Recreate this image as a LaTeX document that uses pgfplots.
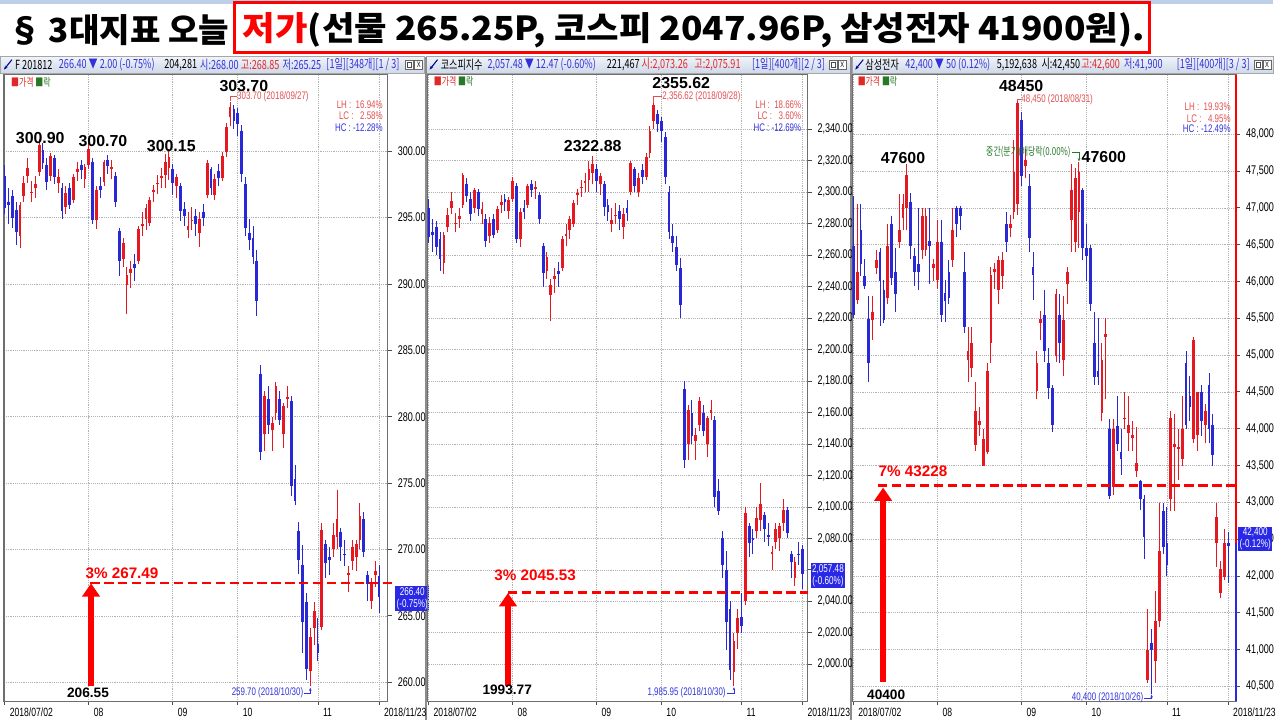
\documentclass[border=0pt]{standalone}
\usepackage{pgfplots}
\pgfplotsset{compat=1.18}
\usepackage{pgfplotstable}
\usepackage{graphicx}
\usepackage{fontspec}
\usetikzlibrary{arrows.meta}
\setmainfont{Liberation Sans}
\newfontfamily\kr{Noto Sans CJK KR}
\newfontfamily\krn[FakeStretch=0.72]{Noto Sans CJK KR}
\newfontfamily\nar[FakeStretch=0.72]{Liberation Sans}

\definecolor{cup}{RGB}{230,25,35}
\definecolor{cdn}{RGB}{40,40,215}
\definecolor{hdrtop}{RGB}{240,243,249}
\definecolor{hdrbot}{RGB}{206,216,233}
\definecolor{txtblue}{RGB}{50,50,220}
\definecolor{txtred}{RGB}{225,40,40}
\definecolor{lred}{RGB}{225,80,80}
\definecolor{dgreen}{RGB}{40,120,40}
\definecolor{boxblue}{RGB}{40,40,230}
\definecolor{framec}{RGB}{110,110,110}
\definecolor{topstrip}{RGB}{190,208,232}

\pgfplotstableread{
d o h l c
0 298.15 298.93 295.29 295.75
1 296.20 297.24 294.51 295.93
2 296.59 297.11 294.25 294.97
3 295.55 296.20 292.95 293.94
4 293.60 296.20 292.69 295.91
5 296.59 298.15 296.20 297.60
6 298.15 299.45 297.63 298.71
7 296.85 297.76 296.20 296.93
8 297.24 298.15 296.46 297.51
9 298.41 300.90 298.15 300.50
10 300.10 300.62 298.67 299.13
11 298.93 299.45 297.11 297.68
12 298.15 299.84 297.76 299.62
13 299.45 299.71 297.50 298.03
14 297.63 298.67 296.85 298.04
15 297.24 297.63 294.90 295.46
16 295.81 297.37 295.29 296.88
17 297.24 297.63 295.68 295.94
18 296.33 298.28 296.07 298.03
19 298.41 299.19 297.76 298.68
20 298.93 299.32 297.89 298.61
21 297.89 299.06 297.24 298.84
22 298.93 300.70 298.67 300.20
23 299.22 299.48 294.54 294.83
24 294.80 297.40 294.15 297.10
25 297.40 298.05 296.49 297.09
26 297.66 299.35 297.40 299.18
27 299.35 299.74 298.31 298.90
28 298.66 299.31 297.88 298.80
29 298.14 298.40 295.80 296.16
30 293.98 294.24 290.60 291.71
31 291.90 293.46 291.25 293.06
32 289.95 291.25 287.74 290.70
33 290.85 291.76 289.68 291.12
34 291.50 292.28 290.20 291.23
35 291.76 294.36 291.50 294.11
36 294.36 295.40 293.58 294.53
37 294.88 296.05 294.10 295.75
38 294.60 296.55 294.34 296.30
39 296.94 297.46 296.16 297.11
40 297.59 298.24 296.81 297.63
41 297.98 298.76 297.20 298.16
42 298.24 299.80 297.20 299.15
43 298.76 300.15 297.85 299.54
44 298.65 299.04 296.70 297.61
45 297.35 298.26 296.44 298.04
46 297.35 297.61 294.75 295.50
47 295.66 296.18 294.36 295.09
48 294.10 295.40 293.45 294.37
49 294.75 295.79 294.10 294.82
50 295.14 295.66 293.58 294.48
51 293.84 295.40 292.80 294.91
52 295.40 296.05 294.36 294.96
53 296.70 299.30 296.44 299.08
54 298.65 298.78 296.70 297.21
55 296.70 298.26 296.31 297.87
56 298.52 299.04 297.35 297.95
57 298.00 299.95 297.74 299.63
58 299.95 302.16 299.56 301.80
59 302.55 303.70 301.90 303.30
60 303.20 303.46 301.64 302.30
61 302.85 303.24 301.16 302.06
62 301.55 301.94 297.65 298.25
63 297.50 298.02 293.60 294.19
64 293.86 294.90 292.56 293.28
65 293.45 294.36 291.50 292.00
66 291.76 292.54 287.60 288.72
67 283.25 283.90 276.75 277.36
68 278.70 281.95 277.40 281.55
69 281.30 282.34 278.70 279.36
70 279.00 280.00 277.40 279.50
71 280.26 282.60 279.74 282.28
72 281.30 281.95 279.35 279.78
73 278.70 281.04 277.66 280.82
74 281.30 282.34 280.65 281.52
75 281.15 281.54 274.00 274.79
76 275.30 276.34 273.35 273.69
77 271.40 272.05 268.15 269.23
78 268.80 270.36 262.17 264.54
79 266.05 266.70 260.20 260.99
80 260.85 264.10 259.70 263.41
81 264.10 266.05 262.80 265.36
82 262.90 264.85 261.60 262.19
83 264.20 272.00 263.94 271.48
84 270.44 270.70 267.84 269.00
85 269.40 270.18 268.10 269.23
86 270.05 272.00 269.40 271.10
87 270.96 274.50 270.05 272.26
88 271.35 271.61 269.14 270.19
89 269.66 270.70 268.75 269.56
90 268.10 268.75 266.80 268.26
91 269.14 270.70 268.49 270.19
92 269.40 270.70 268.36 270.45
93 270.70 273.50 270.05 272.50
94 272.30 272.80 269.40 269.84
95 268.10 268.36 266.15 267.42
96 266.15 267.84 265.50 267.46
97 268.10 269.14 267.19 268.40
98 268.00 268.85 265.25 266.40
}\pA

\pgfplotstableread{
d o h l c
0 2290 2296 2268 2271.5
1 2275 2283 2262 2272.9
2 2278 2282 2260 2265.5
3 2270 2275 2250 2257.6
4 2255 2275 2248 2272.8
5 2278 2290 2275 2285.8
6 2290 2300 2286 2294.3
7 2280 2287 2275 2280.6
8 2283 2290 2277 2285.1
9 2292 2312 2290 2310.9
10 2305 2309 2294 2297.5
11 2296 2300 2282 2286.4
12 2290 2303 2287 2301.3
13 2300 2302 2285 2289.1
14 2286 2294 2280 2289.2
15 2283 2286 2265 2269.3
16 2272 2284 2268 2280.2
17 2283 2286 2271 2273.0
18 2276 2291 2274 2289.1
19 2292 2298 2287 2294.1
20 2296 2299 2288 2293.5
21 2288 2297 2283 2295.3
22 2296 2310 2294 2307.0
23 2304 2306 2268 2270.2
24 2270 2290 2265 2287.7
25 2290 2295 2283 2287.6
26 2292 2305 2290 2303.7
27 2305 2308 2297 2301.5
28 2302 2307 2296 2303.1
29 2298 2300 2280 2282.8
30 2266 2268 2240 2248.5
31 2250 2262 2245 2258.9
32 2235 2245 2218 2240.8
33 2245 2252 2236 2247.1
34 2250 2256 2240 2247.9
35 2252 2272 2250 2270.1
36 2272 2280 2266 2273.3
37 2276 2285 2270 2282.7
38 2280 2295 2278 2293.1
39 2298 2302 2292 2299.3
40 2303 2308 2297 2303.3
41 2306 2312 2300 2307.4
42 2308 2320 2300 2315.0
43 2312 2322.88 2305 2318.0
44 2315 2318 2300 2307.0
45 2305 2312 2298 2310.3
46 2305 2307 2285 2290.8
47 2292 2296 2282 2287.6
48 2280 2290 2275 2282.1
49 2285 2293 2280 2285.5
50 2288 2292 2276 2282.9
51 2278 2290 2270 2286.2
52 2290 2295 2282 2286.6
53 2300 2320 2298 2318.3
54 2315 2316 2300 2303.9
55 2300 2312 2297 2309.0
56 2314 2318 2305 2309.6
57 2310 2325 2308 2322.5
58 2325 2342 2322 2339.2
59 2345 2356.62 2340 2355.4
60 2350 2352 2338 2343.1
61 2345 2348 2332 2338.9
62 2335 2338 2305 2309.6
63 2300 2304 2270 2274.5
64 2272 2280 2262 2267.5
65 2265 2272 2250 2253.8
66 2252 2258 2220 2228.6
67 2175 2180 2125 2129.7
68 2140 2165 2130 2161.9
69 2160 2168 2140 2145.1
70 2142 2150 2130 2146.0
71 2152 2170 2148 2167.5
72 2160 2165 2145 2148.3
73 2140 2158 2132 2156.3
74 2160 2168 2155 2161.7
75 2155 2158 2100 2106.1
76 2110 2118 2095 2097.6
77 2080 2085 2055 2063.3
78 2060 2072 2009 2027.2
79 2035 2040 1990 1996.1
80 1995 2020 1985.95 2014.7
81 2020 2035 2010 2029.7
82 2030 2045 2020 2024.5
83 2040 2100 2038 2096.0
84 2088 2090 2068 2076.9
85 2080 2086 2070 2078.7
86 2085 2100 2080 2093.1
87 2092 2115 2085 2102.0
88 2095 2097 2078 2086.1
89 2082 2090 2075 2081.2
90 2070 2075 2060 2071.2
91 2078 2090 2073 2086.1
92 2080 2090 2072 2088.1
93 2090 2105 2085 2098.0
94 2098 2100 2080 2083.4
95 2070 2072 2055 2064.8
96 2055 2068 2050 2065.1
97 2070 2078 2063 2069.95
98 2073.26 2075.91 2047.96 2057.48
}\pB

\pgfplotstableread{
d o h l c
0 46480 47160 45500 45540
1 45750 47050 45700 46130
2 46700 47050 46080 46240
3 46080 46300 45900 45940
4 45490 45800 44640 44890
5 45480 45800 45210 45590
6 46185 46430 46100 46290
7 46400 46460 45400 46000
8 45890 46020 45430 45480
9 45780 46780 45700 46480
10 46780 46890 45950 46050
11 46130 46460 45590 45830
12 46540 47190 46450 46700
13 46860 47190 46700 47050
14 47000 47600 46700 47440
15 47080 47200 46300 46480
16 46350 46460 45940 46130
17 46240 47000 45890 46130
18 46430 47000 46300 46890
19 46430 47000 46350 46890
20 46550 47000 45970 46480
21 46185 46300 46000 46240
22 46020 46840 45900 46540
23 46540 46840 45450 45540
24 45850 46020 45450 45740
25 46130 46290 45700 45780
26 46290 47000 46200 46700
27 47000 47030 46600 46780
28 47000 47030 46700 46890
29 46130 46400 45300 45380
30 44940 45380 44640 45050
31 44830 45380 44700 45160
32 43780 44640 43700 44240
33 44050 44300 43900 44100
34 43500 44000 43500 43860
35 43690 44890 43650 44790
36 45160 46190 44890 46090
37 46130 46250 45900 46175
38 45890 46350 45700 46290
39 46080 46400 45900 46290
40 46780 46950 46400 46540
41 46730 46900 46600 46780
42 46940 47920 46850 47490
43 47050 48450 46900 48430
44 48190 48300 47300 47430
45 47570 47800 47400 47650
46 47300 47460 46400 46590
47 46190 46400 45750 46090
48 44510 45050 44400 44890
49 45440 45600 45200 45490
50 45540 45890 44900 45050
51 44890 45100 44400 44550
52 44550 44600 43950 44050
53 44990 45900 44900 45830
54 45540 45830 44890 45160
55 44940 45800 44720 45480
56 45970 46190 45700 46130
57 46840 47590 46400 47240
58 46540 47540 46400 47400
59 46940 47620 46460 47490
60 47240 47270 46290 46460
61 46450 46780 46000 46350
62 46450 46500 45600 45700
63 45160 45590 44600 44700
64 44790 45500 44600 44700
65 44210 45160 44100 44940
66 45240 45500 44400 45290
67 43990 44130 43050 43090
68 43210 44130 43100 43990
69 44030 44450 43700 43790
70 43690 44000 43370 43590
71 44130 44500 44000 44150
72 43940 44450 43700 44050
73 43880 44100 43700 43910
74 43430 44020 43350 43530
75 43290 43300 42900 43040
76 43040 43100 42230 42530
77 40580 41550 40550 40990
78 41090 41280 40400 40990
79 40850 41800 40550 41390
80 41390 42990 41300 42340
81 42880 42990 42300 42390
82 42450 42940 42000 42150
83 43040 44240 42880 44140
84 43750 44200 42880 43790
85 43720 44000 43300 43750
86 43590 44450 43500 43990
87 44890 45050 44000 44050
88 44450 44720 44100 44290
89 43860 45240 43800 45210
90 43910 44500 43700 44500
91 44500 44600 43900 44100
92 44050 44340 43800 44240
93 44590 44750 43800 43990
94 44050 44200 43500 43640
95 42450 42990 42120 42800
96 41770 42200 41700 42100
97 41990 42640 41950 42450
98 42450 42600 41900 42400
}\pC

\newcommand\candles[1]{%
  \addplot[cdn, line width=0.75pt, quiver={u=0,v=\thisrow{h}-\thisrow{l}},
    restrict expr to domain={\thisrow{c}-\thisrow{o}}{-1000000:-0.000001}] table[x=d,y=l]{#1};
  \addplot[cdn, line width=2.1pt, quiver={u=0,v=\thisrow{c}-\thisrow{o}},
    restrict expr to domain={\thisrow{c}-\thisrow{o}}{-1000000:-0.000001}] table[x=d,y=o]{#1};
  \addplot[cup, line width=0.75pt, quiver={u=0,v=\thisrow{h}-\thisrow{l}},
    restrict expr to domain={\thisrow{c}-\thisrow{o}}{0:1000000}] table[x=d,y=l]{#1};
  \addplot[cup, line width=2.1pt, quiver={u=0,v=\thisrow{c}-\thisrow{o}},
    restrict expr to domain={\thisrow{c}-\thisrow{o}}{0:1000000}] table[x=d,y=o]{#1};
}

\pgfplotsset{
  candle/.style={
    scale only axis, height=472.5pt, anchor=south west,
    clip mode=individual,
    axis line style={draw=framec, line width=0.8pt},
    tick align=outside, major tick length=3pt,
    xtick pos=left, ytick pos=right, yticklabel pos=right,
    xtick={0,22,44,61,82,98},
    xticklabels={2018/07/02,08,09,10,11,2018/11/23},
    tick style={draw=black!70, line width=0.6pt},
    xticklabel style={font=\nar\fontsize{9}{10}\selectfont, anchor=north west, xshift=0.3pt, yshift=1.5pt},
    yticklabel style={font=\nar\fontsize{9.5}{10}\selectfont, xshift=1pt},
    xmajorgrids, ymajorgrids,
    major grid style={densely dotted, black!30, line width=0.5pt},
    scaled y ticks=false,
    /pgf/number format/assume math mode=true,
  },
}
\tikzset{
  hdr/.style={anchor=west, inner sep=0, font=\krn\fontsize{9.5}{10}\selectfont},
  big/.style={font=\bfseries\fontsize{12}{14}\selectfont, inner sep=0},
  redlab/.style={font=\bfseries\fontsize{11.5}{13}\selectfont, text=red, inner sep=0},
  botlab/.style={font=\bfseries\fontsize{10.3}{12}\selectfont, inner sep=0},
  small/.style={font=\nar\fontsize{8.3}{9}\selectfont, inner sep=0},
  ksmall/.style={font=\krn\fontsize{8.3}{9}\selectfont, inner sep=0},
  pbox/.style={fill=boxblue, text=white, font=\nar\fontsize{8.5}{9}\selectfont, align=center, inner sep=1pt, anchor=west},
  ridx/.style={red, line width=1.9pt, dash pattern=on 7pt off 3.5pt},
  rarr/.style={red, line width=4pt, -{Triangle[width=13pt,length=10pt]}},
}

\begin{document}
\begin{tikzpicture}
\begin{scope}[x=0.75pt,y=0.75pt]
\useasboundingbox (0,0) rectangle (1280,724);
\fill[white] (0,0) rectangle (1280,724);
\fill[topstrip] (0,720) rectangle (1280,724);
% title
\node[anchor=west, inner sep=0] at (8,694) {\kr\bfseries\fontsize{25}{30}\selectfont § 3대지표 오늘};
\node[anchor=west, inner sep=0] at (244,694) {\scalebox{1.065}[1]{\kr\bfseries\fontsize{25}{30}\selectfont\textcolor{red}{저가}(선물 265.25P, 코스피 2047.96P, 삼성전자 41900원).}};
\draw[red, line width=2.3pt] (236,721) rectangle (1156,671);
% panel headers
\foreach \a/\b in {0/427, 429/855, 857/1280}{
  \shade[top color=hdrtop, bottom color=hdrbot] (\a,667) rectangle (\b,650);
  \draw[black!35] (\a,667) rectangle (\b,650);
}
\fill[black!45] (427,0) rectangle (429,667);
\fill[black!45] (855,0) rectangle (857,667);
\foreach \a in {3,431,859}{
  \draw[blue!60!black, line width=0.8pt, -{Stealth[length=3pt]}] (\a+9,664) -- (\a+1,654);
}
% header 1
\node[hdr] at (15,659) {F 201812};
\node[hdr, text=txtblue] at (59,659) {266.40 ▼ 2.00 (-0.75\%)};
\node[hdr] at (165,659) {204,281};
\node[hdr, text=txtblue] at (201,659) {시:268.00};
\node[hdr, text=txtred] at (242,659) {고:268.85};
\node[hdr, text=txtblue] at (284,659) {저:265.25};
\node[hdr, text=txtblue] at (328,659) {[1일][348개][1 / 3]};
% header 2
\node[hdr] at (443,659) {코스피지수};
\node[hdr, text=txtblue] at (490,659) {2,057.48 ▼ 12.47 (-0.60\%)};
\node[hdr] at (610,659) {221,467};
\node[hdr, text=txtred] at (645,659) {시:2,073.26};
\node[hdr, text=txtred] at (698,659) {고:2,075.91};
\node[hdr, text=txtblue] at (756,659) {[1일][400개][2 / 3]};
% header 3
\node[hdr] at (870,659) {삼성전자};
\node[hdr, text=txtblue] at (910,659) {42,400 ▼ 50 (0.12\%)};
\node[hdr] at (1002,659) {5,192,638};
\node[hdr] at (1047,659) {시:42,450};
\node[hdr, text=txtred] at (1087,659) {고:42,600};
\node[hdr, text=txtblue] at (1130,659) {저:41,900};
\node[hdr, text=txtblue] at (1183,659) {[1일][400개][3 / 3]};
\foreach \a in {408,834,1261}{
  \draw[black!60, fill=white] (\a,663) rectangle (\a+8,654);
  \draw[black!60, fill=white] (\a+9,663) rectangle (\a+17,654);
  \node[inner sep=0, font=\nar\fontsize{6}{6}\selectfont] at (\a+13,658.5) {X};
  \draw[black!70] (\a+2,661) rectangle (\a+6,656);
}
\end{scope}

% ---------- panel 1 ----------
\begin{axis}[candle, at={(3pt,14.25pt)}, width=289.5pt,
  xmin=-0.2, xmax=100.3, ymin=258.58, ymax=305.77,
  ytick={260,265,...,300},
  yticklabel style={/pgf/number format/.cd, fixed, fixed zerofill, precision=2}]
\candles{\pA}
\node[big] at (axis cs:9.3,300.97) {300.90};
\node[big] at (axis cs:25.7,300.75) {300.70};
\node[big] at (axis cs:43.6,300.37) {300.15};
\node[big] at (axis cs:62.6,304.94) {303.70};
\draw[lred, line width=0.5pt] (axis cs:59,303.75) |- (axis cs:60.8,304.12);
\node[small, anchor=west, text=lred] at (axis cs:60.8,304.12) {303.70 (2018/09/27)};
\node[small, anchor=east, text=lred] at (axis cs:99,303.52) {LH :\ \ 16.94\%};
\node[small, anchor=east, text=lred] at (axis cs:99,302.70) {LC :\ \ \ 2.58\%};
\node[small, anchor=east, text=txtblue] at (axis cs:99,301.80) {HC : -12.28\%};
\node[ksmall, anchor=west] at (axis cs:1.6,305.2) {\textcolor{txtred}{■가격} \textcolor{dgreen}{■락}};
\node[small, anchor=east, text=txtblue] at (axis cs:78.2,259.18) {259.70 (2018/10/30)};
\draw[txtblue, line width=0.5pt, -{Stealth[length=2.5pt]}] (axis cs:78.4,259.18) -| (axis cs:80,259.6);
\draw[ridx] (axis cs:22.4,267.49) -- (axis cs:101.5,267.49);
\draw[rarr] (axis cs:22.6,259.75) -- (axis cs:22.6,267.45);
\node[redlab] at (axis cs:30.7,268.24) {3\% 267.49};
\node[botlab] at (axis cs:21.8,259.18) {206.55};
\node[pbox] at (axis cs:102.2,266.29) {266.40\\(-0.75\%)};
\end{axis}

% ---------- panel 2 ----------
\begin{axis}[candle, at={(322.5pt,14.25pt)}, width=286.5pt,
  xmin=-0.26, xmax=99.3, ymin=1976.6, ymax=2374.8,
  ytick={2000,2020,2040,2080,2100,2120,2140,2160,2180,2200,2220,2240,2260,2280,2300,2320,2340},
  extra y ticks={2060}, extra y tick labels={},
  yticklabel style={/pgf/number format/.cd, fixed, fixed zerofill, precision=2, 1000 sep={,}}]
\candles{\pB}
\node[big] at (axis cs:43.0,2329.3) {2322.88};
\node[big] at (axis cs:66.2,2369.2) {2355.62};
\draw[lred, line width=0.5pt] (axis cs:59,2357) |- (axis cs:61.2,2360.9);
\node[small, anchor=west, text=lred] at (axis cs:61.2,2360.9) {2,356.62 (2018/09/28)};
\node[small, anchor=east, text=lred] at (axis cs:97.7,2355.9) {LH :\ \ 18.66\%};
\node[small, anchor=east, text=lred] at (axis cs:97.7,2348.9) {LC :\ \ \ 3.60\%};
\node[small, anchor=east, text=txtblue] at (axis cs:97.7,2341.3) {HC : -12.69\%};
\node[ksmall, anchor=west] at (axis cs:1.3,2370.4) {\textcolor{txtred}{■가격} \textcolor{dgreen}{■락}};
\node[small, anchor=east, text=txtblue] at (axis cs:77.9,1981.7) {1,985.95 (2018/10/30)};
\draw[txtblue, line width=0.5pt, -{Stealth[length=2.5pt]}] (axis cs:78.1,1981.7) -| (axis cs:80,1985.5);
\draw[ridx] (axis cs:20.8,2045.53) -- (axis cs:99.3,2045.53);
\draw[rarr] (axis cs:20.8,1986.5) -- (axis cs:20.8,2045.3);
\node[redlab] at (axis cs:27.9,2056.3) {3\% 2045.53};
\node[botlab] at (axis cs:20.6,1983.6) {1993.77};
\node[pbox] at (axis cs:100.1,2056.3) {2,057.48\\(-0.60\%)};
\end{axis}

% ---------- panel 3 ----------
\begin{axis}[candle, at={(642.75pt,14.25pt)}, width=289.5pt,
  xmin=-0.26, xmax=100.1, ymin=40299, ymax=48811,
  ytick={40500,41000,...,48000},
  yticklabel style={/pgf/number format/.cd, fixed, precision=0, 1000 sep={,}}]
\candles{\pC}
\draw[red, line width=1.5pt] (axis cs:100.1,48811) -- (axis cs:100.1,42450);
\draw[boxblue, line width=1.5pt] (axis cs:100.1,42450) -- (axis cs:100.1,40299);
\node[big] at (axis cs:13.0,47676) {47600};
\node[big] at (axis cs:43.9,48650) {48450};
\node[big] at (axis cs:65.5,47689) {47600};
\draw[lred, line width=0.5pt] (axis cs:43,48455) |- (axis cs:43.9,48475);
\node[small, anchor=west, text=lred] at (axis cs:43.9,48475) {48,450 (2018/08/31)};
\node[ksmall, anchor=east, text=dgreen] at (axis cs:56.9,47757) {중간(분기)배당락(0.00\%)};
\draw[dgreen, line width=0.5pt, -{Stealth[length=2.5pt]}] (axis cs:57.1,47757) -| (axis cs:59,47630);
\node[small, anchor=east, text=lred] at (axis cs:98.7,48379) {LH :\ \ 19.93\%};
\node[small, anchor=east, text=lred] at (axis cs:98.7,48217) {LC :\ \ \ 4.95\%};
\node[small, anchor=east, text=txtblue] at (axis cs:98.7,48081) {HC : -12.49\%};
\node[ksmall, anchor=west] at (axis cs:1.1,48716) {\textcolor{txtred}{■가격} \textcolor{dgreen}{■락}};
\node[small, anchor=east, text=txtblue] at (axis cs:75.9,40340) {40,400 (2018/10/26)};
\draw[txtblue, line width=0.5pt, -{Stealth[length=2.5pt]}] (axis cs:76.1,40340) -| (axis cs:78,40390);
\draw[ridx] (axis cs:6.5,43228) -- (axis cs:101,43228);
\draw[rarr] (axis cs:7.8,40560) -- (axis cs:7.8,43200);
\node[redlab] at (axis cs:15.6,43422) {7\% 43228};
\node[botlab] at (axis cs:8.6,40389) {40400};
\node[pbox] at (axis cs:100.6,42501) {42,400\\(-0.12\%)};
\end{axis}
\end{tikzpicture}
\end{document}
